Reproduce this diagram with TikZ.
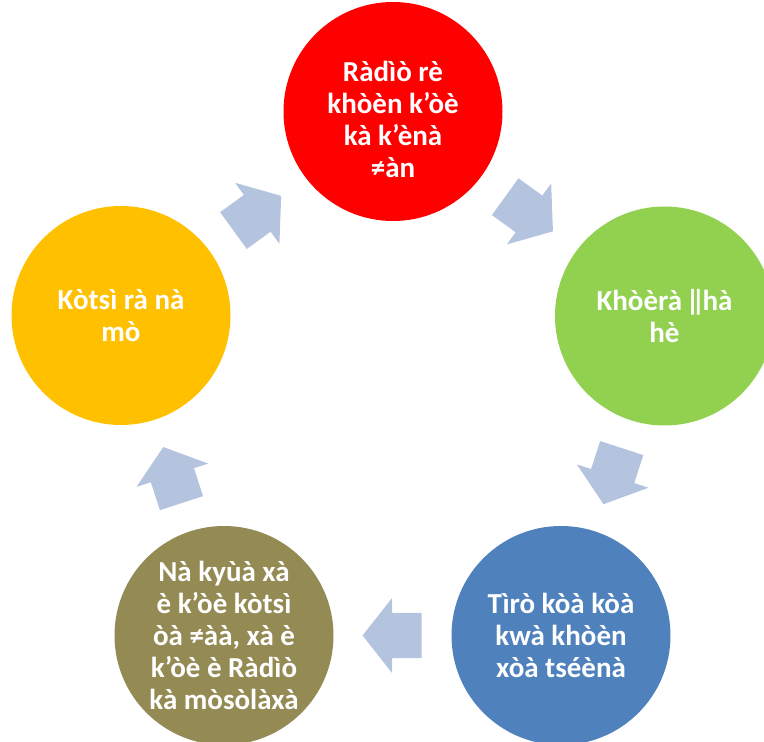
\documentclass[tikz,border=0pt]{standalone}
\usepackage{fontspec}
\setmainfont{Carlito}
\usepackage{xcolor}
\usetikzlibrary{shapes.arrows,calc}

\definecolor{radiored}{RGB}{255,0,0}
\definecolor{khoeragreen}{RGB}{146,208,80}
\definecolor{tiroblue}{RGB}{79,129,189}
\definecolor{kyuaolive}{RGB}{148,138,84}
\definecolor{kotsiyellow}{RGB}{255,192,0}
\definecolor{flowblue}{RGB}{180,196,222}

\begin{document}
\begin{tikzpicture}[x = 1pt, y = 1pt,
  stage/.style = {circle, minimum size = 219pt, inner sep = 0pt, text = white,
    align = center, font = \fontsize{29}{32}\selectfont\bfseries},
  flow/.style = {single arrow, fill = flowblue, inner xsep = 0pt, inner ysep = 22.5pt,
    minimum height = 59pt, single arrow head extend = 15pt,
    single arrow tip angle = 103.7}]
  \useasboundingbox (0, 0) rectangle (764, 742);

  \node[stage, fill = radiored, text height = 133pt] (S1) at (393, 630.5) {
    Ràdìò rè\\khòèn k’òè\\kà k’ènà\\≠àn
  };

  \node[stage, fill = khoeragreen] (S2) at (664.5, 426) {
    Khòèrà ǁhà\\hè
  };

  \node[stage, fill = tiroblue] (S3) at (561, 106.5) {
    Tìrò kòà kòà\\kwà khòèn\\xòà tséènà
  };

  \node[stage, fill = kyuaolive] (S4) at (224, 106.5) {
    Nà kyùà xà\\è k’òè kòtsì\\òà ≠àà, xà è\\k’òè è Ràdìò\\kà mòsòlàxà
  };

  \node[stage, fill = kotsiyellow] (S5) at (121, 426.5) {
    Kòtsì rà nà\\mò
  };

  \node[flow, rotate = -36, xshift = -8.5pt] (A1) at ($(S1)!0.5!(S2)$) {};
  \node[flow, rotate = -108, xshift = -8.5pt] (A2) at ($(S2)!0.5!(S3)$) {};
  \node[flow, rotate = 180, xshift = -8.5pt] (A3) at ($(S3)!0.5!(S4)$) {};
  \node[flow, rotate = 108, xshift = -8.5pt] (A4) at ($(S4)!0.5!(S5)$) {};
  \node[flow, rotate = 36, xshift = -8.5pt] (A5) at ($(S5)!0.5!(S1)$) {};
\end{tikzpicture}
\end{document}
